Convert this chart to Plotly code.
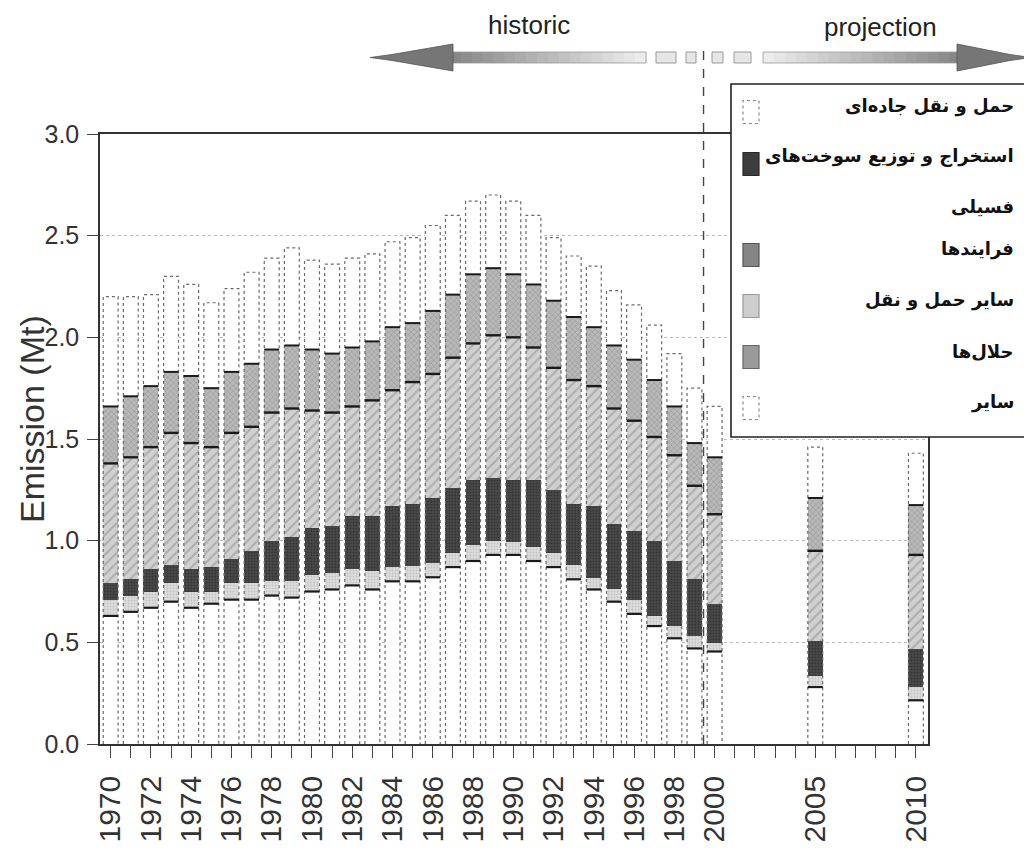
import numpy as np
import plotly.graph_objects as go

# ---------------- data ----------------
years = [1970, 1971, 1972, 1973, 1974, 1975, 1976, 1977, 1978, 1979,
         1980, 1981, 1982, 1983, 1984, 1985, 1986, 1987, 1988, 1989,
         1990, 1991, 1992, 1993, 1994, 1995, 1996, 1997, 1998, 1999,
         2000, 2005, 2010]

road_transport = [0.63, 0.65, 0.67, 0.70, 0.67, 0.69, 0.71, 0.71, 0.73, 0.72,
                  0.75, 0.76, 0.78, 0.76, 0.80, 0.80, 0.82, 0.87, 0.90, 0.93,
                  0.93, 0.90, 0.87, 0.81, 0.76, 0.70, 0.64, 0.58, 0.52, 0.47,
                  0.455, 0.28, 0.215]
other_transport = [0.08, 0.08, 0.08, 0.09, 0.08, 0.06, 0.08, 0.08, 0.07, 0.08,
                   0.08, 0.08, 0.08, 0.09, 0.07, 0.075, 0.07, 0.07, 0.08, 0.07,
                   0.065, 0.07, 0.07, 0.07, 0.055, 0.06, 0.07, 0.05, 0.06, 0.06,
                   0.04, 0.054, 0.065]
fuel_extraction = [0.08, 0.08, 0.11, 0.09, 0.11, 0.12, 0.12, 0.16, 0.20, 0.22,
                   0.23, 0.23, 0.26, 0.27, 0.30, 0.305, 0.32, 0.32, 0.32, 0.31,
                   0.305, 0.33, 0.31, 0.30, 0.355, 0.32, 0.34, 0.37, 0.32, 0.28,
                   0.195, 0.173, 0.186]
solvents = [0.59, 0.60, 0.60, 0.65, 0.62, 0.59, 0.62, 0.61, 0.63, 0.63,
            0.58, 0.56, 0.54, 0.57, 0.57, 0.60, 0.61, 0.64, 0.67, 0.70,
            0.70, 0.65, 0.60, 0.61, 0.59, 0.57, 0.54, 0.51, 0.52, 0.46,
            0.44, 0.443, 0.464]
processes = [0.28, 0.30, 0.30, 0.30, 0.33, 0.29, 0.30, 0.31, 0.31, 0.31,
             0.30, 0.29, 0.29, 0.29, 0.31, 0.29, 0.31, 0.31, 0.34, 0.33,
             0.31, 0.31, 0.33, 0.31, 0.29, 0.31, 0.30, 0.28, 0.24, 0.21,
             0.28, 0.26, 0.245]
other = [0.54, 0.49, 0.45, 0.47, 0.45, 0.42, 0.41, 0.45, 0.45, 0.48,
         0.44, 0.44, 0.44, 0.43, 0.42, 0.42, 0.42, 0.39, 0.36, 0.36,
         0.36, 0.34, 0.31, 0.30, 0.30, 0.27, 0.27, 0.27, 0.26, 0.27,
         0.25, 0.25, 0.255]

name_road = "حمل و نقل جاده\u200cای"
name_extraction = "استخراج و توزیع سوخت\u200cهای فسیلی"
name_processes = "فرایندها"
name_other_transport = "سایر حمل و نقل"
name_solvents = "حلال\u200cها"
name_other = "سایر"

y_title = "Emission (Mt)"
tick_years = list(range(1970, 2011))
tick_labels = [str(y) if (y <= 2000 and y % 2 == 0) or y in (2005, 2010) else ""
               for y in tick_years]
y_ticks = [0.0, 0.5, 1.0, 1.5, 2.0, 2.5, 3.0]
period_labels = ["historic", "projection"]
split_year = 1999.45

# ---------------- geometry helpers ----------------
# The page body adds an 8 px margin, so the figure is 8 px smaller than the window
# and every screen position below is in window pixels.
WIN_W, WIN_H, BODY = 1032, 850, 8
FIG_W, FIG_H = WIN_W - BODY, WIN_H - BODY
L, R, T, B = 100, 928, 134, 744
PW, PH = R - L, B - T


def px(xp):
    return (xp - L) / PW


def py(yp):
    return (B - yp) / PH


BAR_W = 0.74
HW = BAR_W / 2

SANS = "Liberation Sans, Arial, Helvetica, sans-serif"
ARABIC = "DejaVu Sans, sans-serif"

# stack order bottom -> top
stack = [
    (name_road, road_transport, dict(color="white")),
    (name_other_transport, other_transport,
     dict(color="#d8d8d8", pattern=dict(shape=".", bgcolor="#dddddd",
                                         fgcolor="#a8a8a8", size=3, solidity=0.3))),
    (name_extraction, fuel_extraction,
     dict(color="#444444", pattern=dict(shape=".", bgcolor="#4a4a4a",
                                         fgcolor="#1e1e1e", size=3, solidity=0.4))),
    (name_solvents, solvents,
     dict(color="#cfcfcf", pattern=dict(shape="/", bgcolor="#d0d0d0",
                                         fgcolor="#8a8a8a", size=7, solidity=0.28))),
    (name_processes, processes,
     dict(color="#b4b4b4", pattern=dict(shape="x", bgcolor="#b8b8b8",
                                         fgcolor="#7c7c7c", size=4, solidity=0.3))),
    (name_other, other, dict(color="white")),
]

fig = go.Figure()
for name, vals, mk in stack:
    fig.add_trace(go.Bar(
        x=years, y=vals, name=name, width=BAR_W,
        marker=dict(**mk, line=dict(width=0)),
        showlegend=False,
        hovertemplate="%{x}: %{y:.2f} Mt<extra>" + name + "</extra>",
    ))

# cumulative levels for outlines
arr = np.array([s[1] for s in stack])
cum = np.cumsum(arr, axis=0)
xs = np.array(years, dtype=float)
total = cum[-1]

ox, oy = [], []
for x, t in zip(xs, total):
    ox += [x - HW, x - HW, x + HW, x + HW, None]
    oy += [0, t, t, 0, None]
fig.add_trace(go.Scatter(x=ox, y=oy, mode="lines", hoverinfo="skip", showlegend=False,
                         line=dict(color="#6a6a6a", width=1.2, dash="dot")))

# dark boundary lines (top of road transport, solvents, processes)
for level, w in ((cum[0], 2.2), (cum[3], 2.4), (cum[4], 2.0)):
    bx, by = [], []
    for x, v in zip(xs, level):
        bx += [x - HW, x + HW, None]
        by += [v, v, None]
    fig.add_trace(go.Scatter(x=bx, y=by, mode="lines", hoverinfo="skip", showlegend=False,
                             line=dict(color="#1a1a1a", width=w)))

shapes = []
annotations = []

# y-axis title
annotations.append(dict(text=y_title, xref="paper", yref="paper", x=px(32), y=py(419),
                        textangle=-90, showarrow=False, xanchor="center", yanchor="middle",
                        font=dict(family=SANS, size=34, color="#333333")))

# split line between historic and projection
shapes.append(dict(type="line", xref="x", yref="paper", x0=split_year, x1=split_year,
                   y0=0, y1=py(45), line=dict(color="#444444", width=1.4, dash="dash"),
                   layer="above"))

# ---------------- top arrow ----------------
ARW_Y0, ARW_Y1 = 52, 63       # shaft
HEAD_Y0, HEAD_Y1 = 44, 71     # head
yc = (ARW_Y0 + ARW_Y1) / 2


def grey(v):
    v = int(round(v))
    return f"rgb({v},{v},{v})"


n = 18
lx0, lx1 = 450, 646
for i in range(n):
    a = lx0 + (lx1 - lx0) * i / n
    b = lx0 + (lx1 - lx0) * (i + 1) / n + 0.6
    g = 135 + (236 - 135) * i / (n - 1)
    shapes.append(dict(type="rect", xref="paper", yref="paper", x0=px(a), x1=px(b),
                       y0=py(ARW_Y1), y1=py(ARW_Y0), fillcolor=grey(g), line=dict(width=0),
                       layer="above"))
rx0, rx1 = 763, 960
for i in range(n):
    a = rx0 + (rx1 - rx0) * i / n
    b = rx0 + (rx1 - rx0) * (i + 1) / n + 0.6
    g = 236 - (236 - 135) * i / (n - 1)
    shapes.append(dict(type="rect", xref="paper", yref="paper", x0=px(a), x1=px(b),
                       y0=py(ARW_Y1), y1=py(ARW_Y0), fillcolor=grey(g), line=dict(width=0),
                       layer="above"))
# shaft edges
for a, b in ((lx0, lx1), (rx0, rx1)):
    shapes.append(dict(type="rect", xref="paper", yref="paper", x0=px(a), x1=px(b),
                       y0=py(ARW_Y1), y1=py(ARW_Y0), fillcolor="rgba(0,0,0,0)",
                       line=dict(width=0.8, color="#9a9a9a"), layer="above"))
# arrow heads
shapes.append(dict(type="path", xref="paper", yref="paper",
                   path=f"M {px(370)},{py(yc)} L {px(392)},{py(yc-3)} L {px(453)},{py(HEAD_Y0)} "
                        f"L {px(453)},{py(HEAD_Y1)} L {px(392)},{py(yc+3)} Z",
                   fillcolor="#767676", line=dict(width=0.8, color="#555555"), layer="above"))
shapes.append(dict(type="path", xref="paper", yref="paper",
                   path=f"M {px(1031)},{py(yc)} L {px(1010)},{py(yc-3)} L {px(957)},{py(HEAD_Y0)} "
                        f"L {px(957)},{py(HEAD_Y1)} L {px(1010)},{py(yc+3)} Z",
                   fillcolor="#767676", line=dict(width=0.8, color="#555555"), layer="above"))
# small dashed boxes
for a, b in ((656, 676), (686, 696), (712, 723), (734, 751)):
    shapes.append(dict(type="rect", xref="paper", yref="paper", x0=px(a), x1=px(b),
                       y0=py(ARW_Y1), y1=py(ARW_Y0), fillcolor="#e6e6e6",
                       line=dict(width=1, color="#9a9a9a"), layer="above"))

annotations.append(dict(text=period_labels[0], xref="paper", yref="paper", x=px(529), y=py(25),
                        showarrow=False, xanchor="center", yanchor="middle",
                        font=dict(family=SANS, size=26, color="#222222")))
annotations.append(dict(text=period_labels[1], xref="paper", yref="paper", x=px(880), y=py(27),
                        showarrow=False, xanchor="center", yanchor="middle",
                        font=dict(family=SANS, size=26, color="#222222")))

# ---------------- legend (drawn manually, right-aligned Persian labels) ----------------
shapes.append(dict(type="rect", xref="paper", yref="paper", x0=px(731), x1=px(1045),
                   y0=py(437), y1=py(84), fillcolor="white",
                   line=dict(color="#222222", width=1.6), layer="above"))

legend_items = [
    (name_road, "white", "#8a8a8a", 112),
    (name_extraction, "#3d3d3d", "#2a2a2a", 164),
    (name_processes, "#858585", "#555555", 255),
    (name_other_transport, "#cdcdcd", "#999999", 306),
    (name_solvents, "#9a9a9a", "#666666", 357),
    (name_other, "white", "#8a8a8a", 408),
]
SW_X0, SW_X1, SW_H = 743, 759, 23
TXT_X = 1016
LEG_FONT = dict(family=ARABIC, size=18, color="#111111", weight="bold")
for name, fill, edge, cy in legend_items:
    dash = "dot" if fill == "white" else "solid"
    shapes.append(dict(type="rect", xref="paper", yref="paper", x0=px(SW_X0), x1=px(SW_X1),
                       y0=py(cy + SW_H / 2), y1=py(cy - SW_H / 2), fillcolor=fill,
                       line=dict(color=edge, width=1.2, dash=dash), layer="above"))
    if name == name_extraction:
        first, second = name.rsplit(" ", 1)
        annotations.append(dict(text=first, xref="paper", yref="paper", x=px(TXT_X), y=py(cy - 8),
                                showarrow=False, xanchor="right", yanchor="middle", font=LEG_FONT))
        annotations.append(dict(text=second, xref="paper", yref="paper", x=px(TXT_X), y=py(206),
                                showarrow=False, xanchor="right", yanchor="middle", font=LEG_FONT))
    else:
        annotations.append(dict(text=name, xref="paper", yref="paper", x=px(TXT_X), y=py(cy - 6),
                                showarrow=False, xanchor="right", yanchor="middle", font=LEG_FONT))

fig.update_layout(
    width=FIG_W, height=FIG_H,
    margin=dict(l=L - BODY, r=WIN_W - R, t=T - BODY, b=WIN_H - B, pad=0),
    paper_bgcolor="white", plot_bgcolor="white",
    barmode="stack", showlegend=False,
    shapes=shapes, annotations=annotations,
    xaxis=dict(range=[1969.47, 2010.6], tickmode="array", tickvals=tick_years, ticktext=tick_labels,
               tickangle=-90, ticks="outside", ticklen=12, tickwidth=1, tickcolor="#444444",
               showline=True, linecolor="#333333", linewidth=1.5, mirror=True,
               showgrid=False, zeroline=False, ticklabelstandoff=6, automargin=False,
               tickfont=dict(family=SANS, size=30, color="#333333")),
    yaxis=dict(range=[0, 3.0], tickmode="array", tickvals=y_ticks,
               ticktext=[f"{v:.1f}" for v in y_ticks],
               ticks="outside", ticklen=11, tickwidth=1, tickcolor="#444444",
               showline=True, linecolor="#333333", linewidth=1.5, mirror=True,
               showgrid=True, gridcolor="#b8b8b8", griddash="dot", gridwidth=1,
               zeroline=False, ticklabelstandoff=3, automargin=False,
               tickfont=dict(family=SANS, size=25, color="#333333")),
)

fig.write_html("out.html")
